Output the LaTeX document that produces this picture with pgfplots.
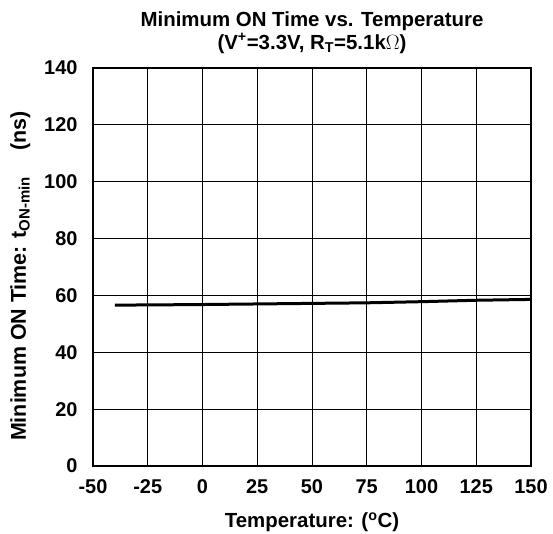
\documentclass[border=0pt]{standalone}
\usepackage{fontspec}
\setmainfont{Liberation Sans}
\usepackage{pgfplots}
\pgfplotsset{compat=1.18}

\begin{document}
\begin{tikzpicture}[x=1bp,y=1bp]
\begin{axis}[
  name=ax,
  scale only axis, width=438bp, height=398bp,
  xmin=-50, xmax=150, ymin=0, ymax=140,
  xtick={-50,-25,0,25,50,75,100,125,150},
  xticklabels={-50,-25,0,25,50,75,100,125,150},
  ytick={0,20,40,60,80,100,120,140},
  yticklabels={0,20,40,60,80,100,120,140},
  tick label style={font=\fontsize{20}{21}\selectfont\bfseries},
  major tick length=0pt,
  xticklabel style={yshift=-10bp},
  yticklabel style={xshift=-12bp},
  grid=major, grid style={black, line width=0.8bp},
  axis line style={black, line width=1.3bp},
  title={Minimum ON Time vs. Temperature\\(V\textsuperscript{+}=3.3V, R\textsubscript{T}=5.1k$\Omega$)},
  title style={font=\fontsize{20.5}{22.5}\selectfont\bfseries, align=center, yshift=5bp},
  xlabel={Temperature: (\textsuperscript{o}C)},
  ylabel={Minimum ON Time: t\textsubscript{ON-min}\hspace{26bp}(ns)},
  xlabel style={font=\fontsize{20.5}{21}\selectfont\bfseries, yshift=-12bp},
  ylabel style={font=\fontsize{21.5}{22}\selectfont\bfseries, yshift=7bp, xshift=-9bp},
]
\draw[black, line width=1.3bp] (axis cs:0,0) -- (axis cs:0,140);
\addplot[black, line width=3bp, no marks] coordinates {
  (-40,56.6) (-25,56.65) (0,56.8) (25,57.0) (50,57.2) (75,57.4) (100,57.8) (125,58.3) (150,58.6)
};
\end{axis}
\pgfresetboundingbox
\path (ax.south west) ++(-93bp,-68bp) rectangle ++(553bp,534bp);
\end{tikzpicture}
\end{document}
